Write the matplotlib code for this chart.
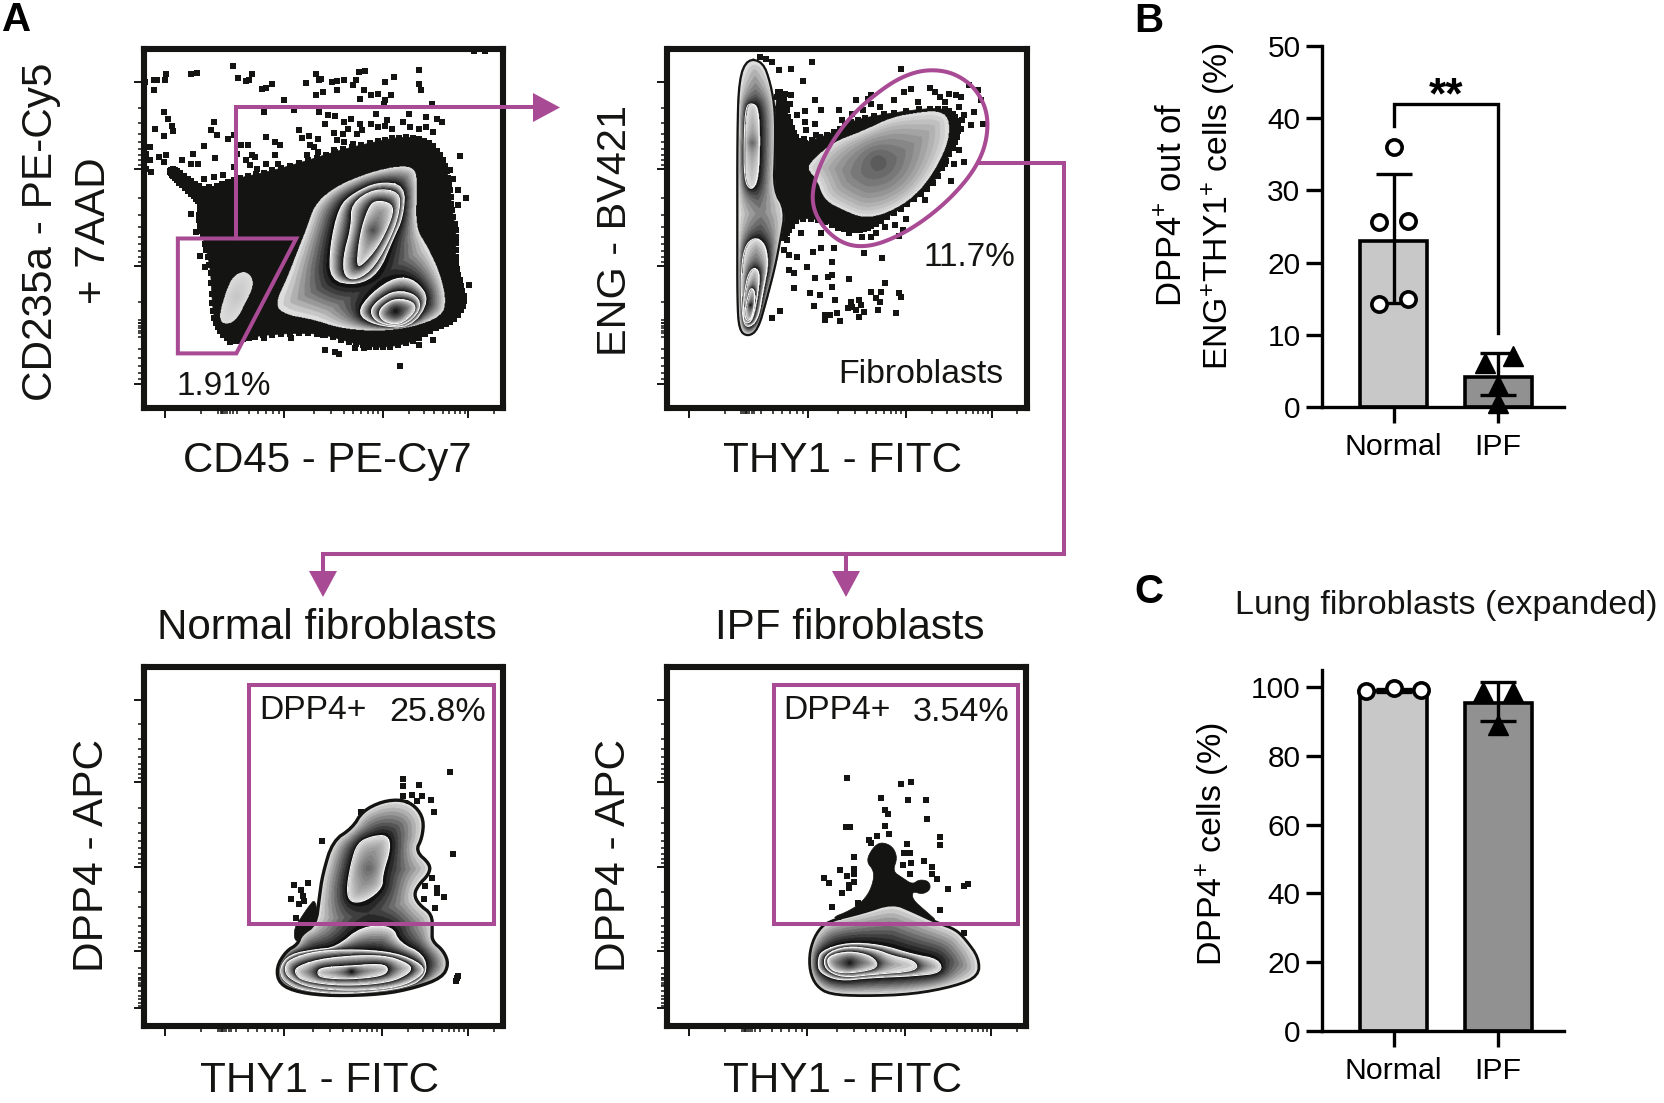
import numpy as np
import matplotlib
matplotlib.use('Agg')
import matplotlib.pyplot as plt
from matplotlib.path import Path
from matplotlib.patches import Polygon

plt.rcParams['font.family'] = ['Liberation Sans', 'DejaVu Sans']
plt.rcParams['mathtext.fontset'] = 'custom'
plt.rcParams['mathtext.rm'] = 'Liberation Sans'
plt.rcParams['mathtext.default'] = 'regular'

W, H = 1665, 1103
PURPLE = '#A84A94'
INK = '#141412'

# bar panels
cats = ['Normal', 'IPF']
b_means = [23.0, 4.2]
b_low = [14.35, 1.6]
b_high = [32.3, 7.5]
b_normal_x = [0.0, -0.14, 0.14, -0.14, 0.14]
b_normal_y = [36.0, 25.6, 25.8, 14.2, 15.0]
b_ipf_x = [-0.13, 0.14, 0.0, 0.0]
b_ipf_y = [6.1, 7.0, 3.1, 0.6]
c_means = [99.0, 95.4]
c_low = [98.5, 90.2]
c_high = [99.5, 101.6]
c_normal_x = [-0.26, 0.0, 0.26]
c_normal_y = [99.0, 99.8, 99.3]
c_ipf_x = [-0.14, 0.14, 0.0]
c_ipf_y = [98.6, 98.6, 88.9]
bar_colors = ['#C8C8C8', '#919191']

# flow panel 1, CD45 vs CD235a
p1_black = [(565,600),(600,560),(660,535),(750,515),(850,485),(950,450),(1050,425),(1130,408),(1200,420),(1240,470),(1260,540),(1265,620),(1280,700),(1275,780),(1290,850),(1305,910),(1270,965),(1215,985),(1150,1030),(1060,1045),(990,1030),(900,1000),(800,1000),(700,1010),(650,1030),(610,990),(595,930),(590,800),(570,720),(555,650)]
p1_fringe = [(475,510),(490,505),(530,540),(575,570),(590,590),(565,615),(540,585),(505,550),(480,525)]
p1_big = [(1160,498),(1100,498),(1010,525),(930,565),(880,615),(860,680),(830,760),(805,830),(768,915),(800,945),(880,960),(950,985),(1050,995),(1150,985),(1240,950),(1252,900),(1235,820),(1200,740),(1165,680),(1172,540)]
p1_up1 = [(1135,555),(1060,545),(990,580),(950,620),(925,740),(925,840),(1000,855),(1060,820),(1100,720),(1130,650)]
p1_up2 = [(1120,575),(1050,565),(985,610),(985,680),(962,770),(965,830),(1000,840),(1050,800),(1100,700),(1120,630)]
p1_up3 = [(1050,600),(1100,610),(1100,650),(1060,740),(1010,800),(1000,790),(1010,700),(1030,630)]
p1_lo1 = [(1110,830),(1165,840),(1205,900),(1150,985),(1050,975),(1000,940),(1040,880)]
p1_lo2 = [(1110,870),(1170,885),(1180,930),(1130,980),(1060,970),(1035,935),(1060,900)]
p1_lo3 = [(1110,895),(1160,905),(1165,935),(1120,975),(1075,965),(1060,940),(1075,915)]
p1_small = [(680,812),(705,825),(710,860),(690,905),(660,965),(625,975),(612,950),(630,880),(650,830)]
p1_gate = [(498,715),(830,715),(662,1060),(498,1060)]
p1_dots = [(430,238),(405,245),(440,238),(465,222),(462,240),(535,222),(552,218),(652,196),(668,233),(688,243),(705,222),(697,238),(735,267),(745,263),(762,250),(797,298),(430,268),(460,335),(470,357),(482,378),(485,392),(435,385),(460,408),(598,365),(590,390),(607,405),(640,417),(655,405),(745,410),(770,425),(785,433),(695,433),(857,247),(885,220),(893,240),(900,235),(930,245),(945,243),(965,238),(1005,215),(1022,213),(998,240),(990,255),(1080,245),(1105,230),(1173,208),(1175,250),(1180,268),(885,285),(905,275),(945,270),(1020,270),(1040,285),(1060,280),(1010,295),(1095,283),(1080,300),(1075,310),(1210,310),(740,335),(825,330),(895,335),(920,345),(940,348),(985,355),(1010,370),(1055,340),(1085,360),(1130,365),(1145,340),(1195,350),(1225,355),(1238,365),(910,370),(965,365),(975,385),(1015,390),(1040,370),(1060,380),(1080,378),(1100,385),(1150,380),(1175,385),(1195,380),(1215,395),(838,388),(845,412),(865,407),(890,415),(935,397),(960,400),(1000,402),(880,440),(870,435),(890,455),(945,420),(965,425),(990,430),(935,450),(860,465),(420,440),(410,460),(420,480),(410,505),(423,515),(445,470),(465,465),(460,485),(480,510),(490,530),(505,525),(515,545),(530,550),(545,570),(510,480),(535,490),(555,490),(540,462),(570,437),(602,472),(570,535),(600,530),(625,525),(585,560),(560,600),(535,640),(550,695),(575,800),(560,767),(655,500),(665,460),(675,435),(705,465),(715,470),(690,480),(700,495),(720,505),(770,465),(780,490),(745,490),(1288,467),(1260,510),(1270,535),(1285,570),(1305,592),(1285,615),(1315,855),(1120,1097),(910,1050),(940,1055),(950,1063),(995,1045),(1020,1045),(1175,1035),(1215,1020),(905,1005),(815,1015),(740,1015),(705,1010),(645,1025),(1360,152),(1330,152)]

# flow panel 2, THY1 vs ENG
p2_black = [(625,470),(700,430),(790,400),(850,360),(950,340),(1100,320),(1150,340),(1160,400),(1130,470),(1080,560),(1000,620),(920,670),(880,690),(820,690),(740,650),(650,665),(640,600),(620,560)]
p2_side = [(625,270),(650,280),(665,360),(690,420),(700,450),(700,640),(660,700),(640,720),(625,560)]
p2_fibro = [(1095,330),(1130,350),(1130,420),(1090,510),(1030,590),(950,640),(880,655),(820,630),(765,600),(745,540),(715,505),(730,480),(790,425),(880,390),(960,350),(1040,335)]
p2_ribbon = [(545,175),(590,185),(612,250),(625,330),(625,450),(620,570),(655,630),(640,720),(625,800),(600,900),(575,990),(545,1010),(520,990),(515,900),(515,700),(515,400),(520,235)]
p2_up = [(555,308),(575,320),(580,420),(575,540),(555,572),(535,540),(535,400),(540,320)]
p2_lo1 = [(565,710),(595,730),(605,790),(590,870),(575,960),(545,985),(530,960),(525,830),(535,740)]
p2_lo2 = [(560,800),(580,815),(575,880),(560,960),(540,972),(530,950),(540,840)]
p2_lo3 = [(555,860),(568,880),(560,950),(545,965),(535,945),(545,890)]
p2_gate = [(1085,207),(1150,220),(1210,265),(1245,340),(1240,430),(1205,510),(1140,590),(1060,660),(980,710),(900,740),(830,735),(770,690),(732,620),(738,540),(780,440),(850,340),(950,255),(1020,218)]
p2_dots = [(580,170),(600,175),(615,185),(635,208),(672,205),(733,185),(705,243),(990,205),(740,298),(655,280),(670,285),(668,310),(650,340),(690,345),(712,332),(712,365),(760,330),(742,370),(715,390),(708,415),(745,405),(810,330),(860,300),(895,295),(905,310),(905,285),(1000,275),(1020,265),(1075,262),(1090,275),(1105,290),(1130,280),(1150,285),(1165,290),(1190,255),(1215,270),(1225,300),(1205,335),(1195,375),(1230,370),(1175,345),(1165,385),(1160,450),(1175,485),(1145,492),(1138,543),(1118,490),(1060,600),(1005,655),(945,680),(975,675),(998,690),(985,708),(935,775),(885,760),(878,710),(905,710),(918,700),(790,785),(795,745),(760,745),(735,755),(690,770),(665,765),(665,810),(680,820),(717,800),(680,865),(740,835),(778,830),(790,825),(840,838),(790,860),(728,880),(757,885),(738,918),(945,850),(905,875),(932,875),(985,880),(992,890),(800,900),(920,895),(930,905),(845,905),(870,900),(638,932),(615,955),(925,930),(978,940),(770,945),(785,945),(805,938),(815,962),(838,925),(860,930),(870,950),(885,935),(850,920),(875,915),(770,960),(640,380),(660,400),(675,420),(650,440),(690,440),(820,360),(850,340),(880,330),(930,320),(970,300),(1040,305),(1120,305),(1160,320),(1170,360),(840,700),(760,700),(700,700),(660,720),(650,750)]

# flow panel 3, normal fibroblasts
p3_black = [(800,900),(775,930),(755,960),(735,990),(735,1030),(760,1030),(805,990)]
p3_outer = [(1060,605),(1100,625),(1125,665),(1120,720),(1100,760),(1145,800),(1140,830),(1110,860),(1095,890),(1110,920),(1150,950),(1150,1000),(1150,1030),(1185,1060),(1200,1100),(1180,1140),(1100,1170),(1000,1190),(850,1195),(750,1185),(690,1160),(680,1110),(710,1060),(745,1040),(755,1010),(800,980),(810,900),(820,830),(850,730),(910,690),(940,640),(1000,610)]
p3_leaf = [(1015,712),(1025,750),(1000,830),(1000,870),(950,910),(905,915),(892,880),(905,800),(925,735),(970,715)]
p3_c0 = [(940,985),(1030,985),(1050,1035),(1125,1070),(1135,1130),(1080,1170),(900,1190),(760,1180),(700,1150),(690,1110),(720,1070),(800,1055),(860,1050)]
p3_c1 = [(720,1085),(800,1060),(920,1055),(1040,1065),(1120,1100),(1125,1130),(1050,1170),(900,1180),(780,1170),(715,1140),(705,1110)]
p3_c2 = [(745,1105),(830,1080),(1000,1070),(1085,1100),(1085,1125),(1020,1155),(880,1165),(760,1150),(735,1125)]
p3_c3 = [(815,1110),(900,1105),(1000,1098),(1020,1115),(1000,1135),(900,1145),(815,1140),(803,1125)]
p3_gate = [(598,260),(1335,260),(1335,980),(598,980)]
p3_dots = [(1203,523),(1063,543),(1063,565),(1110,562),(1063,595),(1090,590),(1118,595),(1105,610),(1148,607),(1155,642),(935,642),(818,730),(1212,768),(735,863),(755,878),(775,855),(760,895),(725,905),(750,920),(1150,840),(1130,865),(1165,870),(1165,885),(1185,897),(1127,903),(1160,932),(1225,1140),(1228,1135),(1222,1150),(740,960),(765,910)]

# flow panel 4, IPF fibroblasts
p4_black = [(745,965),(820,935),(860,900),(880,860),(885,820),(860,790),(880,750),(905,732),(940,745),(955,780),(940,820),(970,840),(1000,860),(1020,845),(1050,850),(1055,875),(1030,890),(1000,880),(1000,905),(1040,940),(1080,975),(1000,960),(850,960)]
p4_outer = [(745,970),(850,945),(940,915),(1000,940),(1075,975),(1130,995),(1160,1025),(1200,1080),(1200,1135),(1130,1165),(1000,1190),(850,1195),(750,1190),(710,1165),(690,1120),(690,1060),(710,1005)]
p4_c1 = [(725,1060),(800,1035),(900,1040),(1000,1070),(1080,1085),(1090,1125),(1000,1135),(870,1140),(780,1150),(720,1125),(715,1090)]
p4_c2 = [(735,1070),(800,1045),(890,1055),(940,1075),(1010,1090),(1015,1120),(880,1130),(790,1140),(735,1115)]
p4_c3 = [(745,1075),(810,1060),(880,1075),(900,1110),(830,1125),(770,1125),(745,1105)]
p4_gate = [(582,260),(1318,260),(1318,980),(582,980)]
p4_dots = [(803,540),(964,557),(997,552),(905,600),(988,607),(1040,607),(918,635),(927,647),(1045,663),(800,688),(812,688),(918,685),(930,708),(893,713),(870,725),(875,735),(1082,717),(1082,740),(985,738),(975,765),(992,765),(825,777),(782,818),(825,815),(825,830),(1035,790),(997,795),(972,802),(1058,807),(732,840),(803,835),(1058,830),(993,830),(1075,845),(748,857),(825,853),(808,862),(808,872),(787,887),(1107,873),(1155,865),(1168,860),(1082,937),(757,928),(835,915),(1155,1005)]

# axis ticks of the flow panels
p1_xmajor = [463, 797, 1073, 1313]
p1_ymajor = [245, 505, 798, 1153]
p2_xmajor = [375, 722, 1005, 1255]
p2_ymajor = [245, 505, 798, 1153]
p3_xmajor = [345, 703, 998, 1257]
p3_ymajor = [305, 552, 808, 1060, 1232]
p4_xmajor = [327, 683, 978, 1237]
p4_ymajor = [305, 552, 808, 1060, 1232]


def ax_px(left, top, right, bottom):
    return fig.add_axes([left / W, 1 - bottom / H, (right - left) / W, (bottom - top) / H])


def smooth(pts, n=2):
    p = np.array(pts, dtype=float)
    for _ in range(n):
        q = np.roll(p, -1, axis=0)
        p = np.column_stack([0.75 * p + 0.25 * q, 0.25 * p + 0.75 * q]).reshape(-1, 2)
    return p


def dist(X, Y, poly):
    a = poly
    b = np.roll(poly, -1, axis=0)
    best = np.full(X.shape, np.inf)
    for (ax_, ay), (bx, by) in zip(a, b):
        dx, dy = bx - ax_, by - ay
        t = ((X - ax_) * dx + (Y - ay) * dy) / max(dx * dx + dy * dy, 1e-9)
        t = np.clip(t, 0, 1)
        d = (X - ax_ - t * dx) ** 2 + (Y - ay - t * dy) ** 2
        best = np.minimum(best, d)
    return np.sqrt(best)


def paint(img, X, Y, node, lines):
    # node is (contour, darkest grey, inner contours); bands go light to dark inwards
    pts, dark, kids = node
    poly = smooth(pts)
    lines.append(poly)
    xs, ys = X[0], Y[:, 0]
    i0, i1 = np.searchsorted(xs, poly[:, 0].min()), np.searchsorted(xs, poly[:, 0].max())
    j0, j1 = np.searchsorted(ys, poly[:, 1].min()), np.searchsorted(ys, poly[:, 1].max())
    sx, sy = X[j0:j1, i0:i1], Y[j0:j1, i0:i1]
    grid = np.column_stack([sx.ravel(), sy.ravel()])
    mask = Path(poly).contains_points(grid).reshape(sx.shape)
    d_out = dist(sx, sy, poly)
    if kids:
        d_in = np.min([dist(sx, sy, smooth(k[0])) for k in kids], axis=0)
    else:
        cx, cy = poly.mean(axis=0)
        d_in = 0.5 * np.hypot((sx - cx), (sy - cy))
    t = d_out / (d_out + d_in + 1e-6)
    t = np.floor(t * 9.999) / 9
    grey = 0.87 + (dark - 0.87) * t
    sub = img[j0:j1, i0:i1]
    sub[mask, 0] = grey[mask]
    sub[mask, 1] = grey[mask]
    sub[mask, 2] = grey[mask]
    sub[mask, 3] = 1
    for k in kids:
        paint(img, X, Y, k, lines)


def zebra(ax, node, xlim, ylim, edge=0.0):
    nx = int((xlim[1] - xlim[0]) / 1.9)
    ny = int((ylim[1] - ylim[0]) / 1.9)
    X, Y = np.meshgrid(np.linspace(xlim[0], xlim[1], nx), np.linspace(ylim[0], ylim[1], ny))
    img = np.zeros((ny, nx, 4))
    lines = []
    paint(img, X, Y, node, lines)
    ax.imshow(img, extent=(xlim[0], xlim[1], ylim[1], ylim[0]), origin='upper',
              aspect='auto', interpolation='bilinear', zorder=3)
    for i, poly in enumerate(lines):
        closed = np.vstack([poly, poly[:1]])
        if i == 0:
            if edge:
                ax.plot(closed[:, 0], closed[:, 1], color=INK, lw=edge, zorder=4)
        else:
            ax.plot(closed[:, 0], closed[:, 1], color='white', lw=0.7, zorder=4)


def black_blob(ax, pts, jag=True):
    poly = smooth(pts)
    ax.add_patch(Polygon(poly, closed=True, fc=INK, ec=INK, lw=0.5, zorder=2))
    if jag:
        ax.scatter(poly[:, 0], poly[:, 1], marker='s', s=16, c=INK, linewidths=0, zorder=2)


def decade_ticks(major, xlim_end):
    out = []
    for a, b in zip(major[:-1], major[1:]):
        out += [a + (b - a) * np.log10(k) for k in range(2, 10)]
    step = major[-1] - major[-2]
    out += [major[-1] + step * np.log10(k) for k in range(2, 6)
            if (major[-1] + step * np.log10(k) - xlim_end) * np.sign(step) < 0]
    return out


def flow_panel(box, xlim, ylim, xmajor, ymajor, xzero, yzero):
    ax = ax_px(*box)
    ax.set_xlim(*xlim)
    ax.set_ylim(ylim[1], ylim[0])
    for s in ax.spines.values():
        s.set_linewidth(4.4)
        s.set_color(INK)
        s.set_zorder(8)
    ax.set_xticks(xmajor)
    ax.set_yticks(ymajor)
    ax.set_xticks(decade_ticks(xmajor, xlim[1]) + xzero, minor=True)
    ax.set_yticks(decade_ticks(ymajor, ylim[0]) + yzero, minor=True)
    ax.tick_params(which='major', length=7.5, width=1.4, color=INK, labelbottom=False, labelleft=False)
    ax.tick_params(which='minor', length=4.5, width=1.1, color=INK)
    return ax


def gate(ax, pts, curved=False):
    poly = smooth(pts, 3) if curved else np.array(pts, dtype=float)
    ax.add_patch(Polygon(poly, closed=True, fc='none', ec=PURPLE, lw=2.9, joinstyle='miter', zorder=6))


def dots(ax, pts):
    p = np.array(pts, dtype=float)
    ax.scatter(p[:, 0], p[:, 1], marker='s', s=13, c=INK, linewidths=0, zorder=2)


def bar_panel(box, ylim, yticks, means, low, high, nx, ny, tx, ty):
    ax = ax_px(*box)
    pos = [0, 1]
    ax.bar(pos, means, width=0.64, color=bar_colors, edgecolor='black', linewidth=2.6, zorder=1)
    err = [np.array(means) - np.array(low), np.array(high) - np.array(means)]
    ax.errorbar(pos, means, yerr=err, fmt='none', ecolor='black', elinewidth=2.4,
                capsize=13.2, capthick=2.4, zorder=3)
    ax.plot(nx, ny, 'o', ms=11, mfc='white', mec='black', mew=2.6, zorder=4, clip_on=False, ls='none')
    ax.plot([1 + v for v in tx], ty, '^', ms=14, mfc='black', mec='black', zorder=4, clip_on=False, ls='none')
    ax.set_xlim(-0.684, 1.63)
    ax.set_ylim(*ylim)
    ax.set_xticks(pos)
    ax.set_xticklabels(cats, fontsize=21.8)
    ax.set_yticks(yticks)
    ax.tick_params(axis='y', length=11.5, width=2.4, labelsize=21.5, pad=4)
    ax.tick_params(axis='x', length=11.5, width=2.4, pad=7.5)
    for s in ['top', 'right']:
        ax.spines[s].set_visible(False)
    for s in ['left', 'bottom']:
        ax.spines[s].set_linewidth(2.4)
    ax.patch.set_alpha(0)
    return ax


fig = plt.figure(figsize=(W / 100, H / 100), dpi=100, facecolor='white')

# panel 1
ax1 = flow_panel((144, 49, 503, 408), (403, 1410), (146, 1224), p1_xmajor, p1_ymajor,
                 [610, 618, 624, 630, 636, 645, 652], [960, 970, 978, 985, 992, 1000])
dots(ax1, p1_dots)
black_blob(ax1, p1_fringe)
black_blob(ax1, p1_black)
big = (p1_big, 0.07, [(p1_up1, 0.07, [(p1_up2, 0.1, [(p1_up3, 0.33, [])])]),
                      (p1_lo1, 0.07, [(p1_lo2, 0.1, [(p1_lo3, 0.1, [])])])])
zebra(ax1, big, (403, 1410), (146, 1224))
zebra(ax1, (p1_small, 0.78, []), (403, 1410), (146, 1224))
gate(ax1, p1_gate)
ax1.set_xlim(403, 1410)
ax1.set_ylim(1224, 146)
ax1.text(493, 1185, '1.91%', fontsize=24, color=INK, zorder=7)

# panel 2
ax2 = flow_panel((667.5, 49, 1027, 408), (312, 1358), (146, 1224), p2_xmajor, p2_ymajor,
                 [525, 532, 538, 544, 550, 558, 565], [960, 970, 978, 985, 992, 1000])
dots(ax2, p2_dots)
black_blob(ax2, p2_side)
black_blob(ax2, p2_black)
ribbon = (p2_ribbon, 0.08, [(p2_up, 0.42, []), (p2_lo1, 0.1, [(p2_lo2, 0.1, [(p2_lo3, 0.1, [])])])])
zebra(ax2, ribbon, (312, 1358), (146, 1224), edge=1.6)
zebra(ax2, (p2_fibro, 0.36, []), (312, 1358), (146, 1224))
gate(ax2, p2_gate, curved=True)
ax2.set_xlim(312, 1358)
ax2.set_ylim(1224, 146)
ax2.text(1056, 797, '11.7%', fontsize=24, color=INK, zorder=7)
ax2.text(809, 1150, 'Fibroblasts', fontsize=24.4, color=INK, zorder=7)

# panel 3
ax3 = flow_panel((144, 667, 502.5, 1026), (282, 1362), (207, 1285), p3_xmajor, p3_ymajor,
                 [505, 512, 518, 524, 530, 538, 545], [1130, 1140, 1148, 1155, 1162])
dots(ax3, p3_dots)
black_blob(ax3, p3_black, jag=False)
normal = (p3_outer, 0.07, [(p3_leaf, 0.42, []),
                           (p3_c0, 0.07, [(p3_c1, 0.07, [(p3_c2, 0.07, [(p3_c3, 0.08, [])])])])])
zebra(ax3, normal, (282, 1362), (207, 1285), edge=2.4)
gate(ax3, p3_gate)
ax3.set_xlim(282, 1362)
ax3.set_ylim(1285, 207)
ax3.text(629, 362, 'DPP4+', fontsize=24.2, color=INK, zorder=7)
ax3.text(1022, 368, '25.8%', fontsize=24.6, color=INK, zorder=7)

# panel 4
ax4 = flow_panel((667.5, 667, 1026, 1026), (262, 1342), (207, 1285), p4_xmajor, p4_ymajor,
                 [485, 492, 498, 504, 510, 518, 525], [1130, 1140, 1148, 1155, 1162])
dots(ax4, p4_dots)
black_blob(ax4, p4_black, jag=False)
ipf = (p4_outer, 0.07, [(p4_c1, 0.07, [(p4_c2, 0.07, [(p4_c3, 0.12, [])])])])
zebra(ax4, ipf, (262, 1342), (207, 1285), edge=2.0)
gate(ax4, p4_gate)
ax4.set_xlim(262, 1342)
ax4.set_ylim(1285, 207)
ax4.text(611, 362, 'DPP4+', fontsize=24.2, color=INK, zorder=7)
ax4.text(1000, 368, '3.54%', fontsize=24.6, color=INK, zorder=7)

# bars
axb = bar_panel((1322, 46, 1564, 407), (0, 50), [0, 10, 20, 30, 40, 50], b_means, b_low, b_high,
                b_normal_x, b_normal_y, b_ipf_x, b_ipf_y)
axb.plot([0, 0, 1, 1], [38.9, 42, 42, 10.3], color='black', lw=2.4, solid_joinstyle='miter', zorder=5)
axb.text(0.5, 43, '**', fontsize=32, fontweight='bold', ha='center', va='center')
axc = bar_panel((1322, 670, 1564, 1031), (0, 105), [0, 20, 40, 60, 80, 100], c_means, c_low, c_high,
                c_normal_x, c_normal_y, c_ipf_x, c_ipf_y)

# overlay in figure pixels for connectors and outer text
ov = fig.add_axes([0, 0, 1, 1], zorder=20)
ov.set_xlim(0, W)
ov.set_ylim(H, 0)
ov.axis('off')
ov.patch.set_alpha(0)
ov.plot([236, 236, 535], [238, 107, 107], color=PURPLE, lw=2.9, solid_joinstyle='miter')
ov.add_patch(Polygon([(533, 93), (560, 107.5), (533, 122)], fc=PURPLE, ec='none'))
ov.plot([980, 1064, 1064, 323, 323], [163, 163, 554, 554, 575], color=PURPLE, lw=2.9, solid_joinstyle='miter')
ov.plot([846, 846], [554, 575], color=PURPLE, lw=2.9)
for ax_x in [323, 846]:
    ov.add_patch(Polygon([(ax_x - 14, 571), (ax_x + 14, 571), (ax_x, 597)], fc=PURPLE, ec='none'))

for label, x, y, size in [('A', 2, 31, 29), ('B', 1134, 32, 29), ('C', 1134, 603, 29)]:
    ov.text(x, y, label, fontsize=size, fontweight='bold', color='black')

ov.text(41, 232, 'CD235a - PE-Cy5', fontsize=30.4, rotation=90, ha='center', va='center', color=INK)
ov.text(94, 231, '+ 7AAD', fontsize=30.4, rotation=90, ha='center', va='center', color=INK)
ov.text(327, 472, 'CD45 - PE-Cy7', fontsize=30.2, ha='center', color=INK)
ov.text(615, 230, 'ENG - BV421', fontsize=29.8, rotation=90, ha='center', va='center', color=INK)
ov.text(843, 472, 'THY1 - FITC', fontsize=30.3, ha='center', color=INK)
ov.text(92, 855, 'DPP4 - APC', fontsize=30.5, rotation=90, ha='center', va='center', color=INK)
ov.text(614, 855, 'DPP4 - APC', fontsize=30.5, rotation=90, ha='center', va='center', color=INK)
ov.text(320, 1092, 'THY1 - FITC', fontsize=30.3, ha='center', color=INK)
ov.text(843, 1092, 'THY1 - FITC', fontsize=30.3, ha='center', color=INK)
ov.text(327, 639, 'Normal fibroblasts', fontsize=30.3, ha='center', color=INK)
ov.text(850, 639, 'IPF fibroblasts', fontsize=30.3, ha='center', color=INK)
ov.text(1173, 205, 'DPP4$^{+}$ out of', fontsize=24.9, rotation=90, ha='center', va='center')
ov.text(1219, 206, 'ENG$^{+}$THY1$^{+}$ cells (%)', fontsize=24.3, rotation=90, ha='center', va='center')
ov.text(1213, 844, 'DPP4$^{+}$ cells (%)', fontsize=24.5, rotation=90, ha='center', va='center')
ov.text(1235, 614, 'Lung fibroblasts (expanded)', fontsize=24.6, color=INK)

fig.savefig('out.png', dpi=100)
